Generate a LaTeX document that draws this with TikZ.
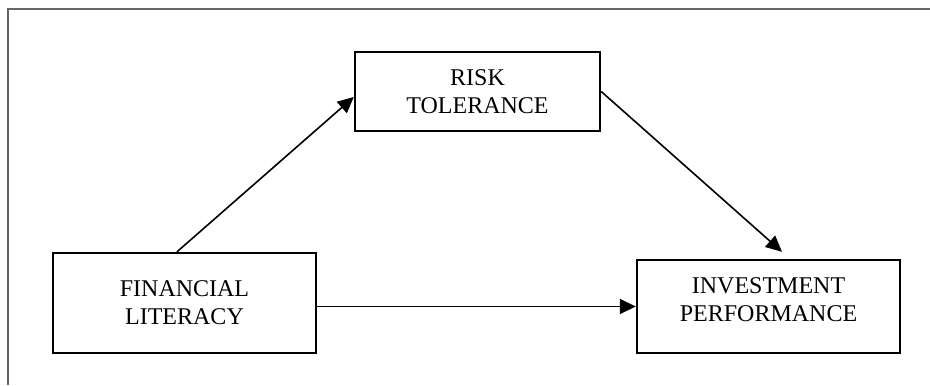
\documentclass[tikz,border=0pt]{standalone}
\usepackage{fontspec}
\setmainfont{Liberation Serif}
\usetikzlibrary{arrows.meta,calc}

\tikzset{
  varbox/.style={draw, line width=1.2pt, rectangle, align=center, inner sep=0pt, font=\fontsize{12}{14}\selectfont},
  patharrow/.style={-{Triangle[length=8pt,width=7.5pt]}, line width=0.8pt}
}

\begin{document}
\begin{tikzpicture}[x=0.5pt, y=-0.5pt]
    \useasboundingbox (0,0) rectangle (930,385);
    % page frame
    \draw[black!60, line width=0.6pt] (8,385) -- (8,9) -- (930,9);
    % Variables
    \node[varbox, minimum width=122.5pt, minimum height=39.5pt] (risk) at (477.5,91.5) {RISK\\TOLERANCE};
    \node[varbox, minimum width=131.5pt, minimum height=50pt] (literacy) at (184.5,303) {FINANCIAL\\LITERACY};
    \node[varbox, minimum width=131.5pt, minimum height=46.5pt, text depth=6.5pt] (performance) at (768.5,306.5) {INVESTMENT\\PERFORMANCE};
    % Paths
    \draw[patharrow] ($(literacy.north)+(-7.5,0)$) -- ($(risk.west)+(0,5.5)$);
    \draw[patharrow] (risk.east) -- ($(performance.north)+(13.5,-7)$);
    \draw[patharrow] (performance.west -| literacy.east) -- (performance.west);
\end{tikzpicture}
\end{document}
